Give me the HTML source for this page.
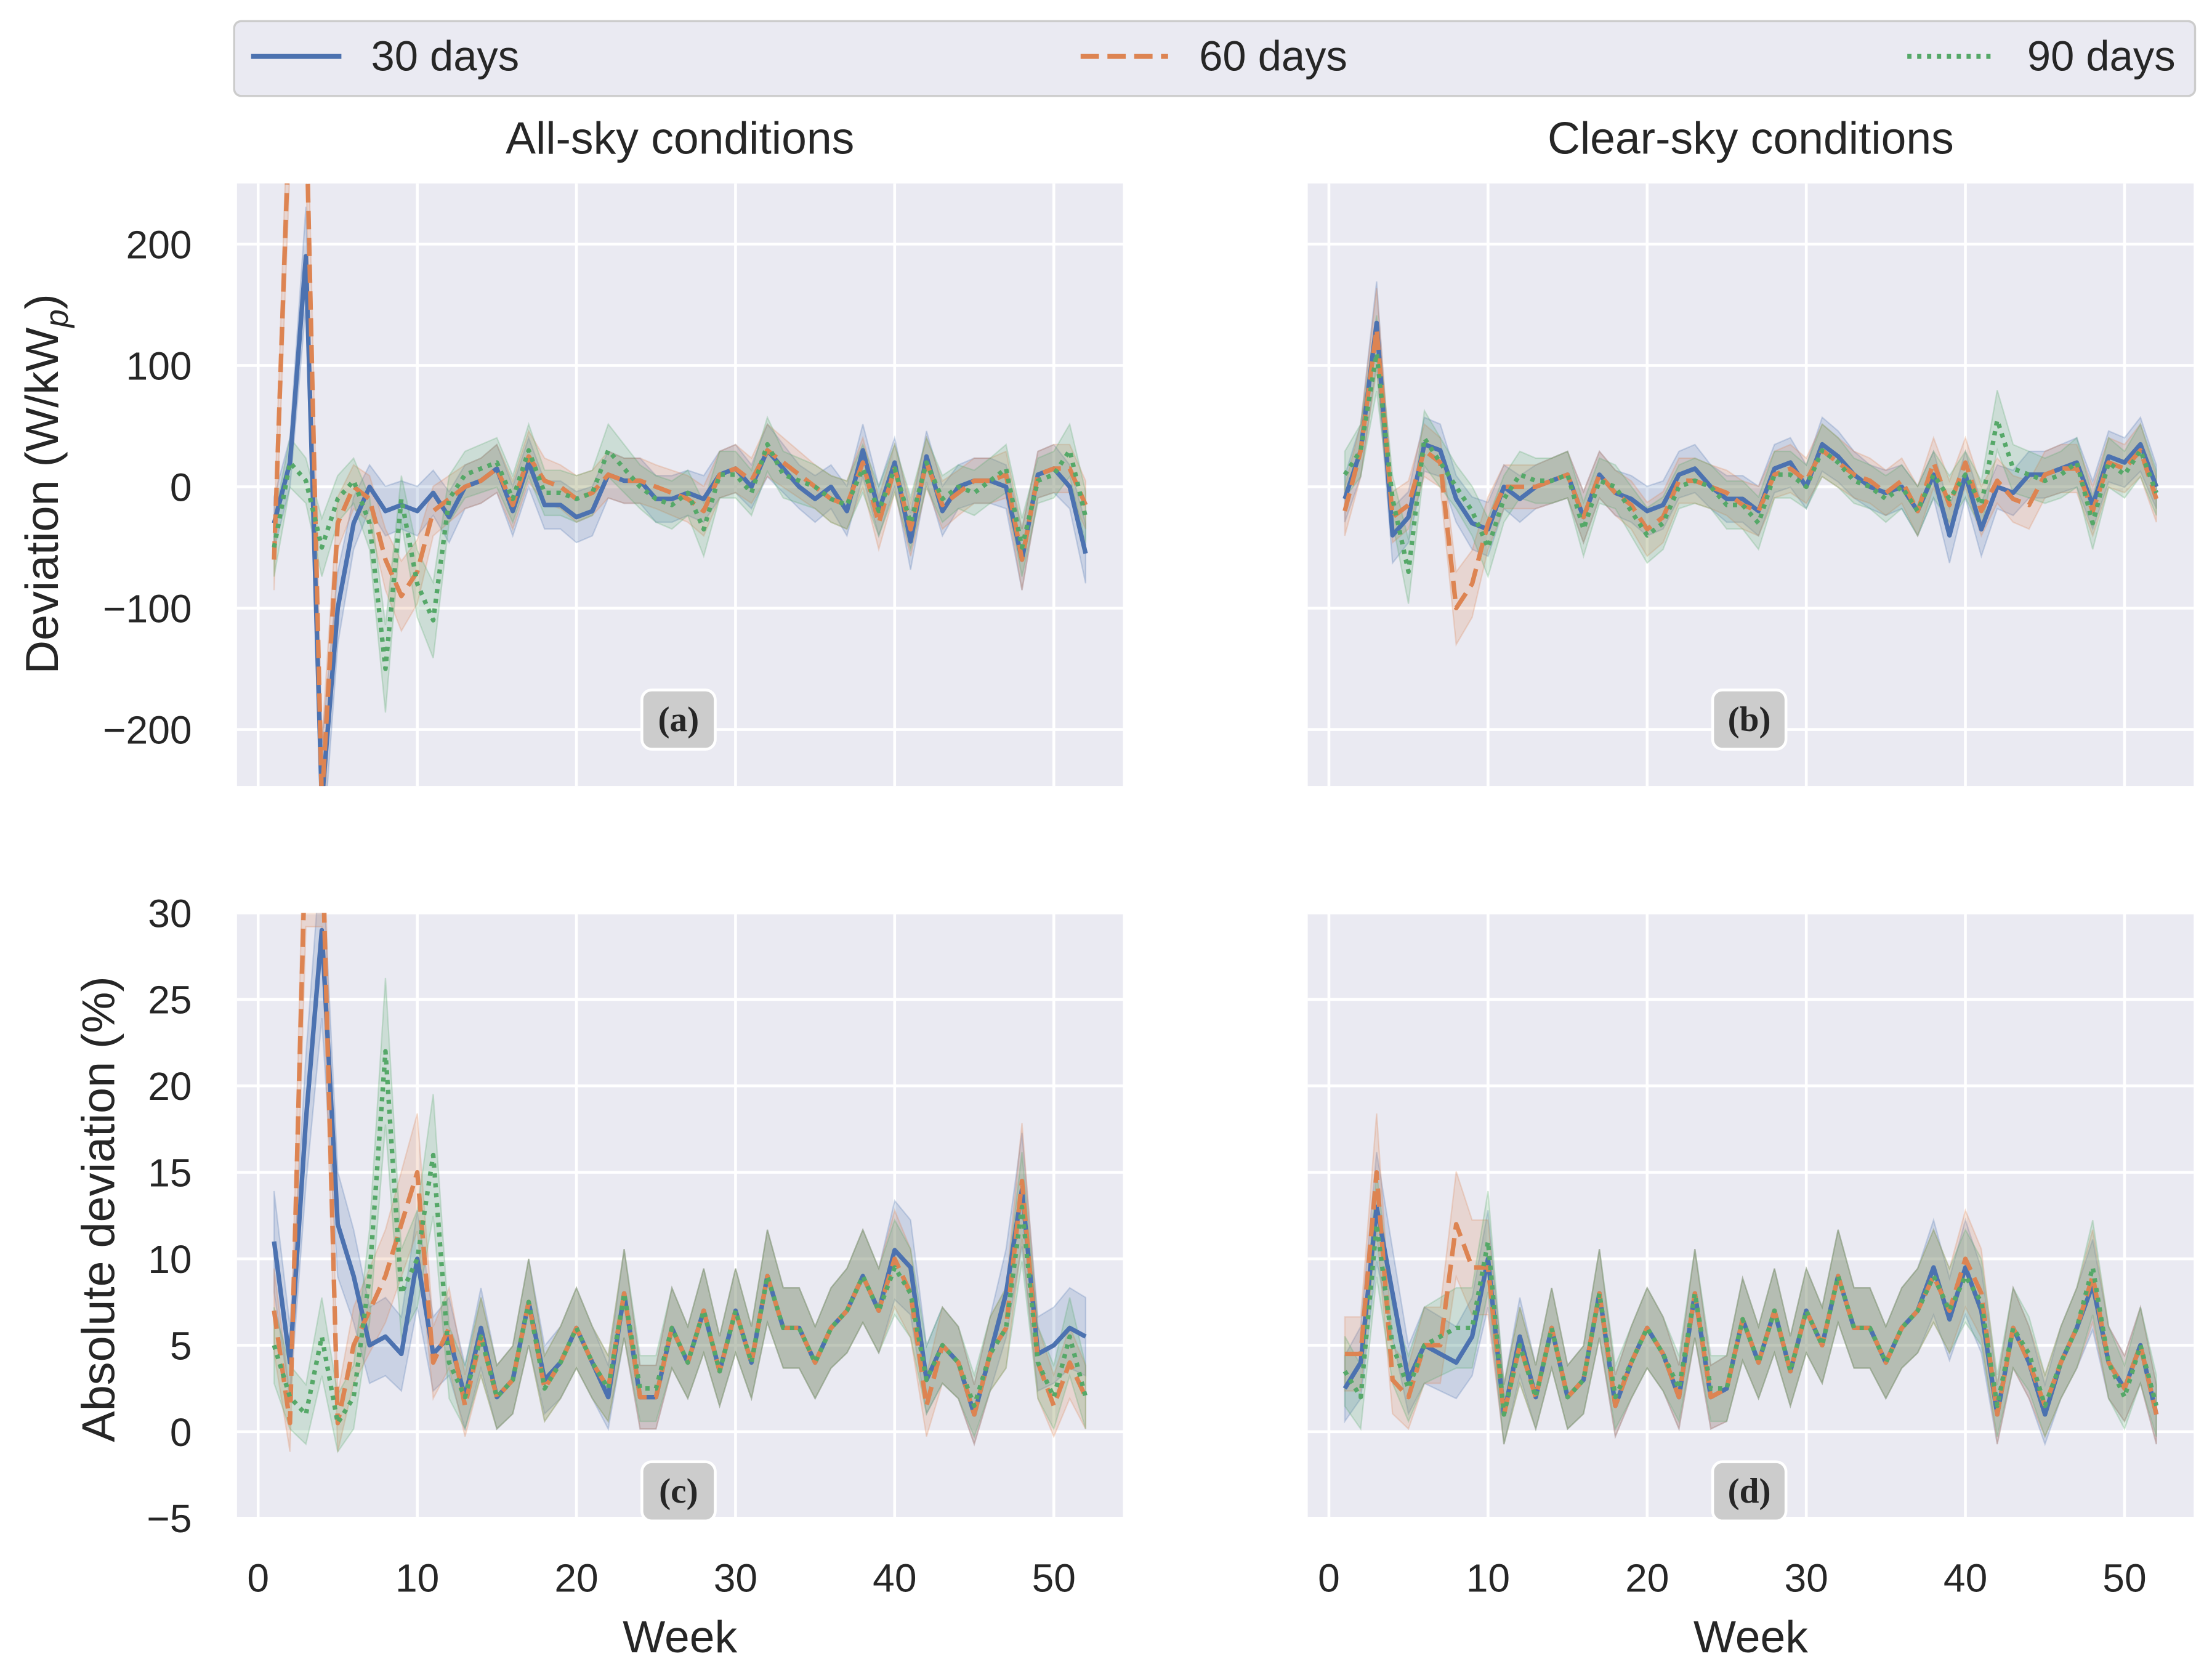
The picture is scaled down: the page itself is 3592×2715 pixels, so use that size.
<!DOCTYPE html>
<html><head><meta charset="utf-8">
<style>
html,body{margin:0;padding:0;background:#fff;}
svg{display:block;}
text{font-family:"Liberation Sans",sans-serif;fill:#262626;}
</style></head>
<body>
<svg id="fig" width="3592" height="2715" viewBox="0 0 1568 1185" preserveAspectRatio="none" xmlns="http://www.w3.org/2000/svg">
<g>
<rect x="166" y="15" width="1390" height="53" rx="5" fill="#eaeaf2" stroke="#cccccc" stroke-width="1.5"/>
<line x1="178" y1="40" x2="242" y2="40" stroke="#4c72b0" stroke-width="3.5"/>
<text x="263" y="50" font-size="30">30 days</text>
<line x1="766" y1="40" x2="828" y2="40" stroke="#dd8452" stroke-width="3.5" stroke-dasharray="13,6"/>
<text x="850" y="50" font-size="30">60 days</text>
<line x1="1352" y1="40" x2="1414" y2="40" stroke="#55a868" stroke-width="3.5" stroke-dasharray="3,4"/>
<text x="1437" y="50" font-size="30">90 days</text>
</g>
<text x="482" y="109" font-size="32" text-anchor="middle">All-sky conditions</text>
<text x="1241" y="109" font-size="32" text-anchor="middle">Clear-sky conditions</text>
<text transform="translate(41,343) rotate(-90)" font-size="33" text-anchor="middle">Deviation (W/kW<tspan font-style="italic" font-size="23" dy="7">p</tspan><tspan dy="-7">)</tspan></text>
<text transform="translate(81,857) rotate(-90)" font-size="33" text-anchor="middle">Absolute deviation (%)</text>
<text x="482" y="1171" font-size="32" text-anchor="middle">Week</text>
<text x="1241" y="1171" font-size="32" text-anchor="middle">Week</text>
</svg>
<script>
const weeks = Array.from({length:52},(_,i)=>i+1);
const xTicks = [0,10,20,30,40,50];
const yTicksDev = [-200,-100,0,100,200];
const yTicksAbs = [-5,0,5,10,15,20,25,30];
const a30 = [-30,20,190,-260,-100,-30,0,-20,-15,-20,-5,-25,0,5,15,-20,20,-15,-15,-25,-20,10,5,5,-10,-10,-5,-10,10,15,0,30,15,0,-10,0,-20,30,-20,20,-45,25,-20,0,5,5,0,-60,10,15,0,-55];
const a60 = [-60,320,320,-260,-30,0,-10,-60,-90,-70,-20,-10,0,5,15,-15,25,5,0,-10,-5,10,5,5,0,-5,-10,-20,10,15,5,30,20,10,0,-10,-15,20,-30,15,-35,20,-15,-5,5,5,10,-60,10,15,15,-15];
const a90 = [-50,20,5,-50,-10,5,-30,-150,-10,-80,-110,-10,10,15,20,-10,30,-5,-5,-10,-5,30,15,0,-10,-15,-5,-35,10,10,-5,35,10,5,0,-10,-15,15,-20,15,-30,20,-10,0,-5,5,15,-50,5,10,30,-25];
const b30 = [-10,30,135,-40,-25,35,30,-10,-30,-35,0,-10,0,5,10,-25,10,-5,-10,-20,-15,10,15,0,-10,-10,-20,15,20,0,35,25,10,0,-5,0,-20,10,-40,10,-35,0,-5,10,10,15,20,-15,25,20,35,0];
const b60 = [-20,30,130,-25,-15,30,20,-100,-80,-30,0,0,0,5,10,-25,10,-5,-15,-35,-25,5,5,0,-5,-15,-20,10,15,5,30,20,10,5,-5,5,-20,20,-15,20,-20,5,-10,-15,10,15,15,-20,20,15,30,-10];
const b90 = [10,30,110,-10,-70,40,20,0,-20,-50,-10,10,5,5,10,-35,5,0,-20,-40,-30,0,5,0,-15,-15,-30,10,10,0,30,20,5,0,-10,0,-20,10,-10,10,-15,55,15,10,5,10,20,-30,20,10,30,-5];
const c30 = [11,4,18,29,12,9,5,5.5,4.5,10,4.5,5.5,2,6,2,3,7.5,3,4,6,4,2,8,2,2,6,4,7,3.5,7,4,9,6,6,4,6,7,9,7,10.5,9.5,3,5,4,1,4.5,8,14,4.5,5,6,5.5];
const c60 = [7,0.5,35,35,0.5,5,7,9,12,15,4,6,1.5,5.5,2,3,7.5,2.5,4,6,4,2.5,8,2,2,6,4,7,3.5,7,4,9,6,6,4,6,7,9,7,10,8,1.5,5,4,1,4.5,6,14.5,4,1.5,4,2];
const c90 = [5,2,1,5.5,0.5,2,9,22,8,10,16,4,2,5.5,2,3,7.5,2.5,4,6,4,2.5,8,2.5,2.5,6,4,7,3.5,7,4,9,6,6,4,6,7,9,7,9.5,8,3,5,4,1.5,4.5,6,13,4,2,5.5,2];
const d30 = [2.5,4,13,8,3,5,4.5,4,5.5,10,1,5.5,2,6,2,3,8,1.5,4,6,4.5,2,8,2,2.5,6.5,4,7,3.5,7,5,9,6,6,4,6,7,9.5,6.5,9.5,7,1,6,4,1,4,6,8.5,4,2.5,5,1];
const d60 = [4.5,4.5,15,3,2,5,5,12,9.5,9.5,1,5,2,6,2,3,8,1.5,4,6,4.5,2,8,2,2.5,6.5,4,7,3.5,7,5,9,6,6,4,6,7,9,7,10,8,1,6,4,1.5,4,6,9,4,2.5,5,1];
const d90 = [3.5,2,12,5,2.5,5,5.5,6,6,11,1,5,2,6,2,3,8,2,4,6,4.5,2.5,8,2.5,2.5,6.5,4,7,3.5,7,5,9,6,6,4,6,7,9,7,9,7.5,1.5,6,4.5,1.5,4,6,9.5,4,2,5,1.5];

const NS="http://www.w3.org/2000/svg";
const svg=document.getElementById('fig');
const colors=['#4c72b0','#dd8452','#55a868'];
const dashes=[null,'13,6','3,4'];
const sNames=['30-days','60-days','90-days'];
function mk(tag,attrs,parent){const e=document.createElementNS(NS,tag);for(const k in attrs)e.setAttribute(k,attrs[k]);(parent||svg).appendChild(e);return e;}

const panels=[
 {id:'a',x:168,y:130,w:628,h:427,x0:183,ymin:-246.5,ymax:250,yt:yTicksDev,s:[a30,a60,a90],band:18,lab:'(a)',leftTicks:true,bottomTicks:false,ly:510},
 {id:'b',x:927,y:130,w:628,h:427,x0:942,ymin:-246.5,ymax:250,yt:yTicksDev,s:[b30,b60,b90],band:18,lab:'(b)',leftTicks:false,bottomTicks:false,ly:510},
 {id:'c',x:168,y:647,w:628,h:429,x0:183,ymin:-5,ymax:30,yt:yTicksAbs,s:[c30,c60,c90],band:1.6,lab:'(c)',leftTicks:true,bottomTicks:true,ly:1057},
 {id:'d',x:927,y:647,w:628,h:429,x0:942,ymin:-5,ymax:30,yt:yTicksAbs,s:[d30,d60,d90],band:1.6,lab:'(d)',leftTicks:false,bottomTicks:true,ly:1057}
];
panels.forEach(p=>{
 const xs=v=>p.x0+v*11.28;
 const ys=v=>p.y+p.h-(v-p.ymin)/(p.ymax-p.ymin)*p.h;
 const g=mk('g',{});
 
 
 const cp=mk('clipPath',{id:'clip'+p.id},g);
 mk('rect',{x:p.x,y:p.y,width:p.w,height:p.h},cp);
 const bg=mk('rect',{x:p.x,y:p.y,width:p.w,height:p.h,fill:'#eaeaf2'},g);
 
 
 xTicks.forEach(t=>{
  const l=mk('line',{x1:xs(t),x2:xs(t),y1:p.y,y2:p.y+p.h,stroke:'#fff','stroke-width':2},g);
  
  
  if(p.bottomTicks){const tx=mk('text',{x:xs(t),y:p.y+p.h+52,'font-size':28,'text-anchor':'middle'},g);tx.textContent=t;
   
   }
 });
 p.yt.forEach(t=>{
  const l=mk('line',{x1:p.x,x2:p.x+p.w,y1:ys(t),y2:ys(t),stroke:'#fff','stroke-width':2},g);
  
  
  if(p.leftTicks){const tx=mk('text',{x:p.x-32,y:ys(t)+10,'font-size':28,'text-anchor':'end'},g);tx.textContent=(t<0?'\u2212'+(-t):t);
   
   }
 });
 const cg=mk('g',{'clip-path':'url(#clip'+p.id+')'},g);
 p.s.forEach((arr,si)=>{
  let up=arr.map((v,i)=>xs(weeks[i])+','+ys(v+p.band+Math.abs(v)*0.12)).join(' ');
  let dn=arr.map((v,i)=>xs(weeks[i])+','+ys(v-p.band-Math.abs(v)*0.12)).reverse().join(' ');
  const band=mk('polygon',{points:up+' '+dn,fill:colors[si],'fill-opacity':0.2,stroke:colors[si],'stroke-opacity':0.25},cg);
  
  
 });
 p.s.forEach((arr,si)=>{
  const pts=arr.map((v,i)=>xs(weeks[i])+','+ys(v)).join(' ');
  const attrs={points:pts,fill:'none',stroke:colors[si],'stroke-width':3.2,'stroke-linejoin':'round'};
  if(dashes[si])attrs['stroke-dasharray']=dashes[si];
  const pl=mk('polyline',attrs,cg);
  
  
 });
 const cx=(p.x+p.x+p.w)/2-1, cy=p.ly;
 const lb=mk('rect',{x:cx-26,y:cy-21,width:52,height:42,rx:7,fill:'#cccccc',stroke:'#fff','stroke-width':2},g);
 
 
 const lt=mk('text',{x:cx,y:cy+8,'font-size':25,'font-weight':'bold','text-anchor':'middle',style:'font-family:"Liberation Serif",serif'},g);
 lt.textContent=p.lab;
 
 
});
</script>
</body></html>
